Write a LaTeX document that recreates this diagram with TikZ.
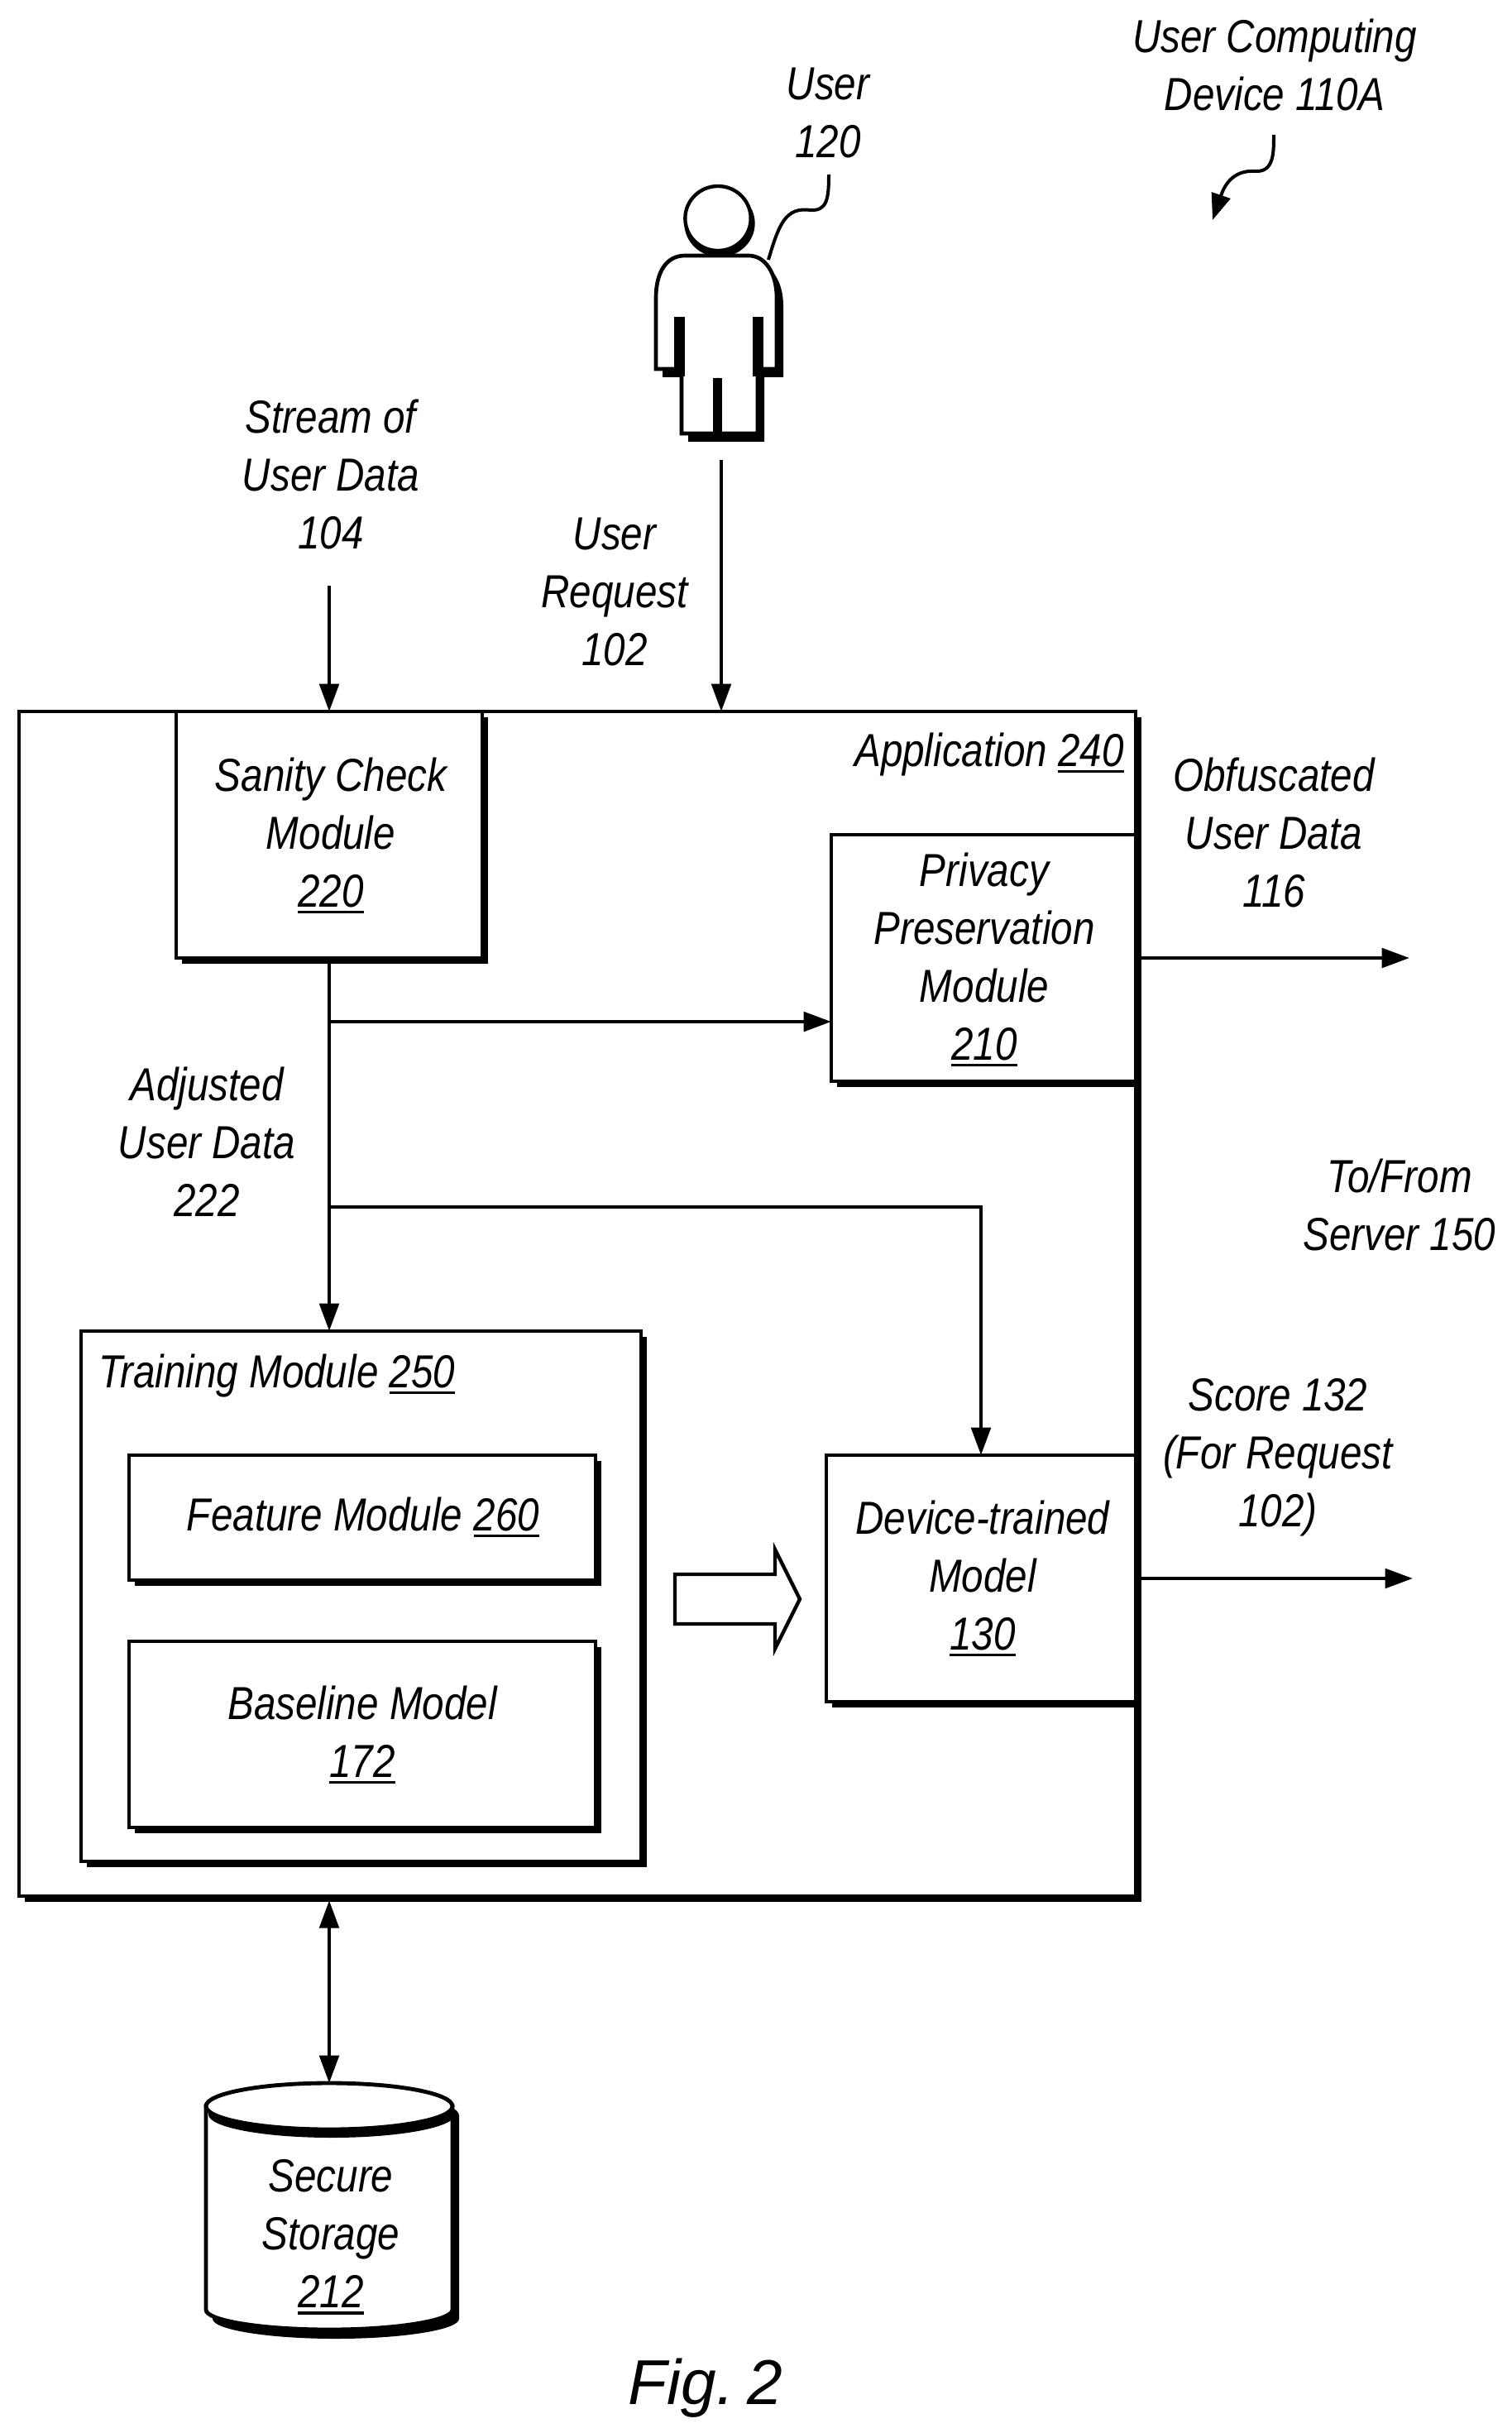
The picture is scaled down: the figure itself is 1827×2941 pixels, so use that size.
\documentclass[tikz,border=0pt]{standalone}
\usepackage{fontspec}
\usetikzlibrary{arrows.meta,shadows}
\setmainfont{Liberation Sans}[FakeStretch=0.85]
\newfontfamily\figfont{Liberation Sans}
\newcommand\ulnum[1]{\setbox0\hbox{#1}\rlap{\rule[-2.4pt]{\wd0}{1.1pt}}\box0}
\newcommand\bx[5]{%
  \pgfmathsetmacro\bxw{(#4-#2)*0.3}\pgfmathsetmacro\bxh{(#5-#3)*0.3}%
  \node[boxed,minimum width=\bxw pt,minimum height=\bxh pt] (#1) at ({(#2+#4)/2},{(#3+#5)/2}) {};}
\tikzset{
  boxed/.style={draw,fill=white,line width=1.45pt,inner sep=0pt,outer sep=0pt,
    drop shadow={shadow xshift=2pt,shadow yshift=-2.2pt,fill=black,opacity=1}},
  lbl/.style={font=\itshape\fontsize{16.8}{21}\selectfont,align=center,inner sep=0pt,outer sep=0pt},
  conn/.style={line width=1.3pt,-{Triangle[length=10pt,width=7pt]}},
  biconn/.style={line width=1.3pt,{Triangle[length=10pt,width=7pt]}-{Triangle[length=10pt,width=7pt]}},
  lead/.style={line width=1.2pt},
}
\begin{document}
\begin{tikzpicture}[x=0.3pt,y=-0.3pt]
\useasboundingbox (0,0) rectangle (1827,2941);
\fill[white] (0,0) rectangle (1827,2941);

% boxes
\bx{app}{23}{860}{1373}{2292}
\bx{san}{213}{860}{583}{1158}
\bx{priv}{1005}{1009}{1373}{1307}
\bx{train}{98}{1609}{775}{2250}
\bx{feat}{156}{1759}{720}{1910}
\bx{base}{156}{1984}{720}{2209}
\bx{dev}{999}{1759}{1373}{2057}

% person
\def\personpath{(793,446) -- (793,360) .. controls (793,330) and (805,309) .. (828,309) -- (905,309) .. controls (925,309) and (939,330) .. (939,360) -- (939,446) -- (916,446) -- (916,524) -- (868,524) -- (868,457) -- (868,524) -- (824,524) -- (824,446) -- cycle}
\fill[black,shift={(8,10)}] \personpath;
\draw[line width=1.4pt,fill=white] \personpath;
\fill[black] (815,383) rectangle (828,455);
\fill[black] (910,383) rectangle (923,455);
\fill[black] (862,457) rectangle (873,524);
\fill[black] (870,270) ellipse [x radius=12.8pt,y radius=12.2pt];
\draw[line width=1.3pt,fill=white] (868,264) ellipse [x radius=11.9pt,y radius=11.7pt];

% cylinder
\begin{scope}[shift={(8,11)}]
\fill[black] (249,2546) -- (249,2792) .. controls (249,2805) and (316,2816) .. (398,2816) .. controls (480,2816) and (547,2805) .. (547,2792) -- (547,2546) -- cycle;
\fill[black] (398,2546) ellipse [x radius=44.7pt,y radius=8.4pt];
\end{scope}
\draw[line width=1.45pt,fill=white] (249,2546) -- (249,2792) .. controls (249,2805) and (316,2816) .. (398,2816) .. controls (480,2816) and (547,2805) .. (547,2792) -- (547,2546) -- cycle;
\begin{scope}
\clip (249,2500) rectangle (547,2600);
\fill[black] (401,2556) ellipse [x radius=44.7pt,y radius=8.4pt];
\end{scope}
\draw[line width=1.45pt,fill=white] (398,2546) ellipse [x radius=44.7pt,y radius=8.4pt];

% block arrow
\draw[line width=1.3pt,fill=white,line join=miter] (816,1903) -- (937,1903) -- (937,1873) -- (967,1933) -- (937,1993) -- (937,1963) -- (816,1963) -- cycle;

% free ends
\coordinate (streamstart) at (398,708);
\coordinate (reqstart) at (872,556);
\coordinate (j1) at (398,1235);
\coordinate (j2) at (398,1459);
\coordinate (obfend) at (1704,1158);
\coordinate (scoreend) at (1708,1908);
\coordinate (stotop) at (398,2518);
\coordinate (userlead) at (1002,211);
\coordinate (userbody) at (929,314);
\coordinate (devlead) at (1540,163);
\coordinate (devtip) at (1466,266);

% connectors
\draw[conn] (streamstart) -- (streamstart |- san.north);
\draw[conn] (reqstart) -- (reqstart |- app.north);
\draw[conn] (san.south) -- (san.south |- train.north);
\draw[conn] (j1) -- (priv.west |- j1);
\draw[conn] (j2) -| (dev.north);
\draw[conn] (priv.east) -- (obfend);
\draw[conn] (dev.east) -- (scoreend);
\draw[biconn,shorten <=1.6pt] (stotop |- app.south) -- (stotop);
\draw[lead] (userlead) .. controls (1002,240) and (1000,255) .. (980,254) .. controls (950,250) and (942,270) .. (userbody);
\draw[lead,-{Triangle[length=9.5pt,width=7pt]}] (devlead) .. controls (1540,185) and (1540,208) .. (1518,207) .. controls (1490,205) and (1480,225) .. (devtip);

% labels
\node[lbl] (tdev) at (1541,78) {User Computing\\Device 110A};
\node[lbl] (tuser) at (1001,137) {User\\120};
\node[lbl] (tstream) at (400,573) {Stream of\\User Data\\104};
\node[lbl] (treq) at (743,716) {User\\Request\\102};
\node[lbl] (tsan) at (400,1010) {Sanity Check\\Module\\\ulnum{220}};
\node[lbl] (tapp) at (1196,912) {Application \ulnum{240}};
\node[lbl] (tobf) at (1540,1006) {Obfuscated\\User Data\\116};
\node[lbl] (tpriv) at (1190,1160) {Privacy\\Preservation\\Module\\\ulnum{210}};
\node[lbl] (tadj) at (250,1380) {Adjusted\\User Data\\222};
\node[lbl] (tto) at (1692,1456) {To/From\\Server 150};
\node[lbl] (ttrain) at (335,1663) {Training Module \ulnum{250}};
\node[lbl] (tfeat) at (439,1834) {Feature Module \ulnum{260}};
\node[lbl] (tbase) at (438,2097) {Baseline Model\\\ulnum{172}};
\node[lbl] (tscore) at (1545,1762) {Score 132\\(For Request\\102)};
\node[lbl] (tmodel) at (1188,1908) {Device-trained\\Model\\\ulnum{130}};
\node[lbl] (tsto) at (400,2704) {Secure\\Storage\\\ulnum{212}};
\node[lbl,font=\figfont\itshape\fontsize{23}{26}\selectfont] (tfig) at (853,2887) {Fig.\kern-1.5pt\ 2};
\end{tikzpicture}
\end{document}
